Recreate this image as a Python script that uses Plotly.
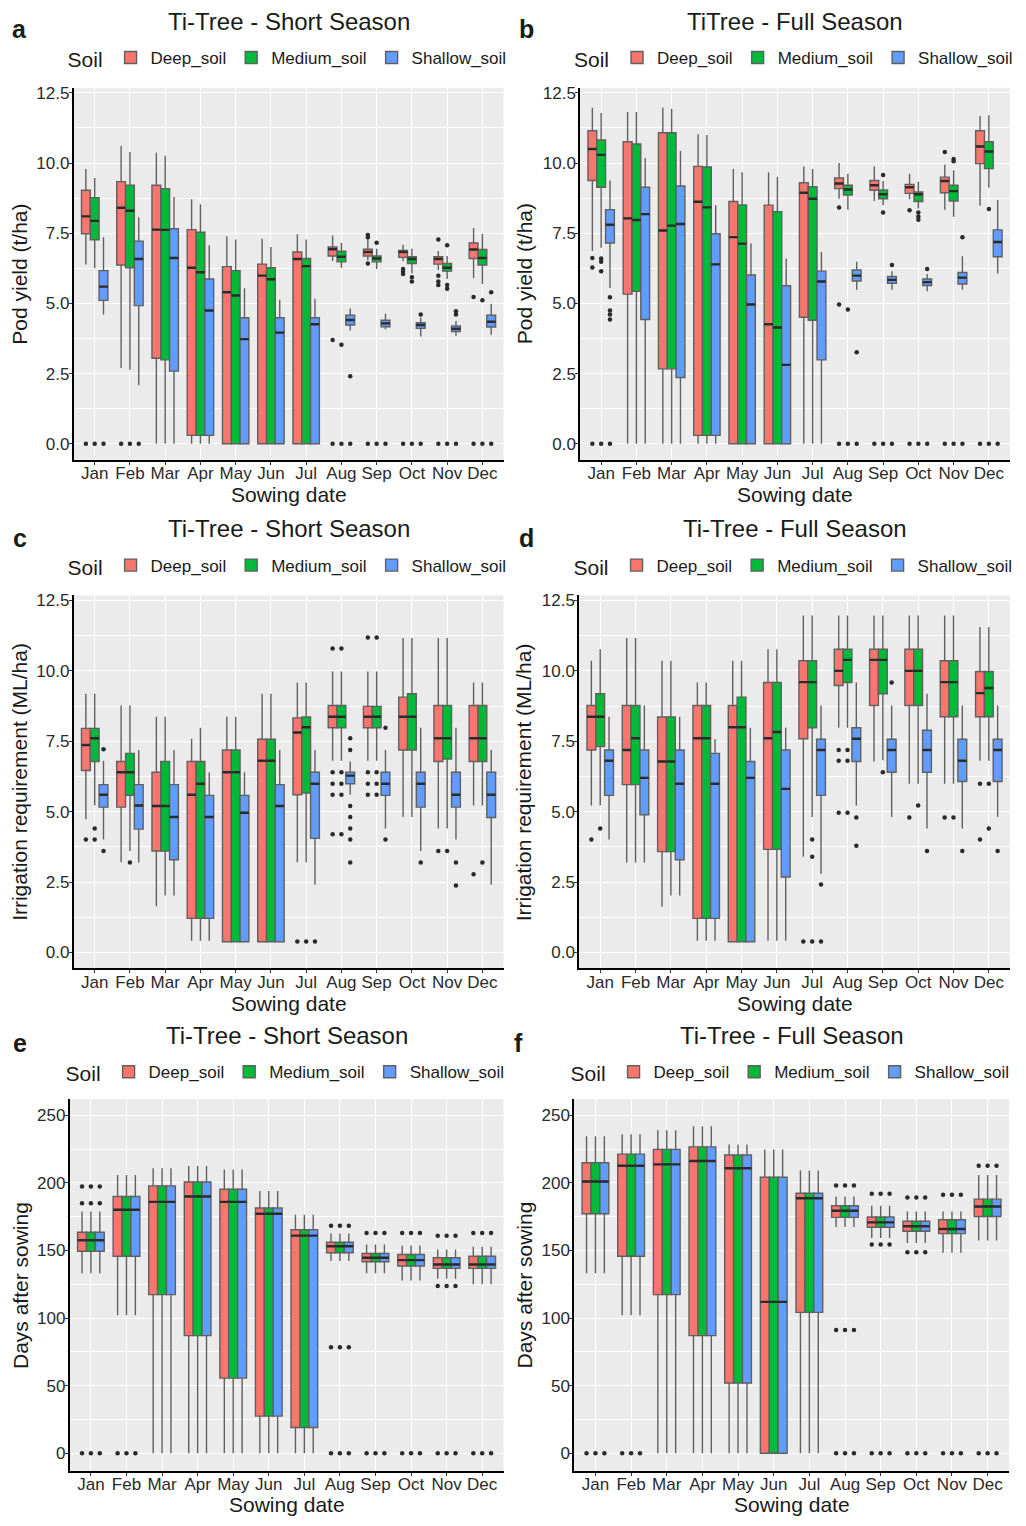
import plotly.graph_objects as go

MONTHS = ["Jan", "Feb", "Mar", "Apr", "May", "Jun", "Jul", "Aug", "Sep", "Oct", "Nov", "Dec"]
SOILS = ["Deep_soil", "Medium_soil", "Shallow_soil"]
SOIL_COLORS = ["#F8766D", "#00BA38", "#619CFF"]

# ---------------- Panel a: Pod yield, short season (rows: deep, medium, shallow)
A_LOW = [[6.39, 2.70, 0, 0, 0, 0, 0, 6.51, 6.54, 6.51, 6.19, 5.90],
         [6.25, 2.64, 0, 0, 0, 0, 0, 6.27, 6.23, 6.07, 5.87, 5.69],
         [4.61, 2.09, 0, 0, 0, 0, 0, 4.04, 4.08, 3.82, 3.85, 3.88]]
A_Q1 = [[7.48, 6.37, 3.05, 0.30, 0, 0, 0, 6.69, 6.69, 6.64, 6.40, 6.60],
        [7.27, 6.27, 2.99, 0.30, 0, 0, 0, 6.48, 6.48, 6.42, 6.15, 6.37],
        [5.11, 4.92, 2.59, 0.30, 0, 0, 0, 4.23, 4.17, 4.11, 4.00, 4.16]]
A_MED = [[8.10, 8.41, 7.63, 6.27, 5.40, 5.99, 6.58, 6.93, 6.83, 6.83, 6.58, 6.92],
         [7.94, 8.30, 7.62, 6.11, 5.28, 5.86, 6.33, 6.66, 6.60, 6.58, 6.27, 6.62],
         [5.60, 6.58, 6.62, 4.75, 3.73, 3.96, 4.26, 4.41, 4.29, 4.23, 4.10, 4.35]]
A_Q3 = [[9.03, 9.34, 9.21, 7.63, 6.31, 6.40, 6.83, 7.01, 6.93, 6.89, 6.66, 7.15],
        [8.77, 9.21, 9.09, 7.54, 6.17, 6.27, 6.60, 6.86, 6.69, 6.66, 6.42, 6.92],
        [6.17, 7.22, 7.66, 5.87, 4.49, 4.49, 4.49, 4.58, 4.40, 4.31, 4.20, 4.58]]
A_HIGH = [[9.79, 10.61, 10.37, 8.71, 7.39, 7.30, 7.46, 7.42, 7.30, 7.09, 6.87, 7.69],
          [9.47, 10.39, 10.26, 8.53, 7.28, 7.01, 7.28, 7.16, 6.95, 6.95, 6.69, 7.48],
          [7.36, 8.07, 8.79, 7.07, 5.54, 5.13, 5.17, 4.82, 4.63, 4.49, 4.37, 4.99]]
A_OUT = [[[0], [0], [], [], [], [], [], [3.70, 0], [7.44, 7.36, 6.42, 0], [6.23, 6.13, 6.05, 0], [7.28, 5.99, 5.78, 5.66, 0], [5.23, 0]],
         [[0], [0], [], [], [], [], [], [3.53, 0], [7.16, 0], [5.93, 5.78, 0], [7.07, 5.66, 5.52, 0], [5.11, 0]],
         [[0], [0], [], [], [], [], [], [2.41, 0], [0], [4.61, 0], [4.72, 4.61, 0], [5.40, 0]]]

# ---------------- Panel b: Pod yield, full season
B_LOW = [[6.87, 0, 0, 0, 0, 0, 0, 8.73, 8.65, 8.71, 8.34, 8.48],
         [6.98, 0, 0, 0, 0, 0, 0, 8.34, 8.50, 8.38, 8.09, 9.12],
         [5.55, 0, 0, 0, 0, 0, 0, 5.49, 5.49, 5.43, 5.49, 6.07]]
B_Q1 = [[9.38, 5.33, 2.67, 0.30, 0, 0, 4.51, 9.09, 9.03, 8.92, 8.94, 9.98],
        [9.14, 5.43, 2.67, 0.30, 0, 0, 4.40, 8.86, 8.73, 8.63, 8.65, 9.80],
        [7.15, 4.43, 2.36, 0.30, 0, 0, 2.99, 5.80, 5.72, 5.64, 5.69, 6.66]]
B_MED = [[10.50, 8.03, 7.60, 8.62, 7.36, 4.26, 8.94, 9.27, 9.21, 9.14, 9.36, 10.59],
         [10.29, 7.97, 7.77, 8.42, 7.13, 4.14, 8.73, 9.06, 8.89, 8.89, 9.00, 10.41],
         [7.80, 8.18, 7.83, 6.39, 4.96, 2.81, 5.78, 5.99, 5.84, 5.76, 5.92, 7.19]]
B_Q3 = [[11.15, 10.76, 11.08, 9.88, 8.63, 8.50, 9.30, 9.47, 9.38, 9.24, 9.50, 11.15],
        [10.82, 10.68, 11.08, 9.86, 8.51, 8.27, 9.16, 9.21, 9.04, 8.97, 9.21, 10.76],
        [8.34, 9.14, 9.18, 7.48, 6.01, 5.63, 6.15, 6.19, 5.96, 5.87, 6.10, 7.62]]
B_HIGH = [[11.97, 11.82, 11.97, 11.03, 9.79, 9.67, 9.88, 10.00, 9.88, 9.62, 9.94, 11.68],
          [11.78, 11.82, 11.93, 11.00, 9.67, 9.51, 9.79, 9.62, 9.36, 9.33, 9.74, 11.70],
          [9.38, 10.18, 10.43, 8.50, 7.13, 6.60, 6.83, 6.48, 6.15, 6.05, 6.68, 8.68]]
B_OUT = [[[6.62, 6.28, 0], [], [], [], [], [], [], [8.42, 4.96, 0], [0], [8.32, 0], [10.39, 0], [0]],
         [[6.60, 6.48, 6.15, 0], [], [], [], [], [], [], [4.78, 0], [9.57, 8.24, 0], [8.24, 8.10, 7.98, 0], [10.14, 10.06, 0], [8.36, 0]],
         [[5.22, 4.75, 4.61, 4.43, 0], [], [], [], [], [], [], [3.26, 0], [6.37, 0], [6.23, 0], [7.36, 0], [0]]]

# ---------------- Panel c: Irrigation requirement, short season
C_LOW = [[4.73, 3.20, 1.64, 0.41, 0.38, 0.38, 3.20, 6.81, 6.81, 4.81, 4.40, 5.22],
         [5.22, 3.60, 2.02, 0.41, 0.38, 0.38, 3.20, 6.81, 6.81, 4.81, 4.40, 5.22],
         [4.01, 3.19, 2.02, 0.41, 0.38, 0.38, 2.41, 5.60, 4.40, 3.60, 4.01, 2.41]]
C_Q1 = [[6.46, 5.16, 3.60, 1.21, 0.38, 0.38, 5.60, 7.98, 7.98, 7.19, 6.78, 6.78],
        [6.78, 5.58, 3.60, 1.21, 0.38, 0.38, 5.66, 7.98, 7.98, 7.19, 6.87, 6.78],
        [5.16, 4.38, 3.29, 1.21, 0.38, 0.38, 4.05, 5.99, 5.58, 5.16, 5.16, 4.79]]
C_MED = [[7.37, 6.40, 5.20, 5.60, 6.40, 6.81, 7.81, 8.37, 8.37, 8.37, 7.61, 7.61],
         [7.61, 6.40, 5.20, 5.99, 6.40, 6.81, 8.00, 8.37, 8.37, 8.37, 7.61, 7.61],
         [5.60, 5.22, 4.81, 4.81, 4.96, 5.20, 5.99, 6.28, 5.99, 5.99, 5.60, 5.60]]
C_Q3 = [[7.96, 6.78, 6.40, 6.78, 7.19, 7.57, 8.33, 8.77, 8.74, 9.07, 8.77, 8.77],
        [7.96, 7.07, 6.78, 6.78, 7.19, 7.57, 8.36, 8.77, 8.74, 9.19, 8.77, 8.77],
        [5.96, 5.96, 5.96, 5.58, 5.58, 5.96, 6.40, 6.40, 6.40, 6.40, 6.40, 6.40]]
C_HIGH = [[9.19, 8.77, 8.37, 7.59, 8.37, 9.19, 9.59, 9.98, 9.98, 11.17, 11.17, 9.59],
          [9.19, 8.77, 8.37, 7.98, 8.37, 9.19, 9.59, 9.98, 9.98, 11.17, 11.17, 9.59],
          [6.81, 7.19, 7.19, 6.40, 6.40, 7.19, 7.19, 6.78, 7.19, 7.98, 7.98, 7.19]]
C_OUT = [[[4.01], [], [], [], [], [], [0.39], [10.80, 6.40, 5.99, 5.60, 4.20], [11.19, 6.40, 5.99, 5.60], [], [3.60], [2.78]],
         [[4.40, 4.01], [3.19], [], [], [], [], [0.39], [10.80, 6.40, 5.99, 5.60, 4.20], [11.19, 6.40, 5.99, 5.60], [], [3.60], [3.19]],
         [[7.22, 3.60], [], [], [], [], [], [0.39], [7.61, 7.19, 5.20, 4.81, 4.40, 4.01, 3.19], [7.98, 4.01], [3.19], [3.19, 2.38], []]]

# ---------------- Panel d: Irrigation requirement, full season
D_LOW = [[5.22, 3.19, 1.62, 0.41, 0.38, 0.41, 3.40, 7.98, 6.78, 5.99, 5.99, 6.81],
         [5.22, 3.19, 2.02, 0.41, 0.38, 0.41, 4.81, 7.98, 6.83, 5.99, 5.99, 6.81],
         [4.01, 3.19, 2.02, 0.41, 0.38, 0.41, 2.79, 5.22, 4.81, 4.40, 4.40, 4.81]]
D_Q1 = [[7.19, 5.96, 3.58, 1.21, 0.38, 3.66, 7.59, 9.48, 8.77, 8.77, 8.37, 8.37],
        [7.31, 5.96, 3.58, 1.21, 0.38, 3.66, 7.98, 9.59, 9.19, 8.77, 8.37, 8.37],
        [5.58, 4.89, 3.29, 1.21, 0.38, 2.68, 5.58, 6.78, 6.40, 6.40, 6.07, 6.07]]
D_MED = [[8.37, 7.19, 6.78, 7.61, 8.00, 7.61, 9.60, 10.00, 10.39, 10.00, 9.60, 9.21],
         [8.37, 7.61, 6.78, 7.61, 8.00, 7.83, 9.60, 10.39, 10.39, 10.00, 9.60, 9.39],
         [6.81, 6.20, 5.99, 5.99, 6.20, 5.81, 7.19, 7.59, 7.19, 7.19, 6.81, 7.19]]
D_Q3 = [[8.77, 8.77, 8.36, 8.77, 8.77, 9.59, 10.36, 10.77, 10.77, 10.77, 10.36, 9.98],
        [9.19, 8.77, 8.36, 8.77, 9.07, 9.59, 10.36, 10.77, 10.77, 10.77, 10.36, 9.98],
        [7.19, 7.19, 7.19, 7.07, 6.78, 7.19, 7.57, 7.98, 7.57, 7.89, 7.57, 7.57]]
D_HIGH = [[10.36, 11.17, 10.36, 9.59, 10.36, 10.77, 11.97, 11.97, 11.97, 11.97, 11.97, 11.56],
          [10.77, 11.17, 10.36, 9.59, 10.36, 10.77, 11.97, 11.97, 11.97, 11.97, 11.97, 11.56],
          [8.37, 8.77, 8.37, 7.57, 7.98, 7.98, 8.77, 9.59, 8.77, 9.19, 8.77, 8.77]]
D_OUT = [[[4.01], [], [], [], [], [], [0.39], [7.19, 6.81, 4.96], [], [4.79], [4.79], [5.99, 4.01]],
         [[4.40], [], [], [], [], [], [4.01, 3.40, 0.39], [7.19, 6.81, 4.96], [6.40], [5.22], [4.79], [5.99, 4.40]],
         [[], [], [], [], [], [], [2.41, 0.39], [4.79, 3.79], [9.59], [3.60], [3.60], [3.60]]]

# ---------------- Panel e: Days after sowing, short season (identical for all soils)
E_LOW = [133.1, 102.2, 0, 0, 0, 0, 0, 142.2, 133.1, 127.9, 129.2, 125.0]
E_Q1 = [149.5, 145.8, 117.4, 87.0, 55.6, 27.5, 19.1, 148.3, 141.7, 138.5, 136.8, 136.8]
E_MED = [157.6, 180.1, 186.0, 190.0, 186.0, 177.2, 161.0, 153.2, 144.6, 142.9, 139.7, 139.7]
E_Q3 = [163.5, 190.0, 197.8, 200.7, 195.3, 181.4, 165.4, 156.1, 147.8, 147.1, 144.6, 145.8]
E_HIGH = [178.9, 205.9, 210.8, 212.5, 210.0, 194.1, 176.5, 162.5, 154.4, 153.7, 150.7, 152.7]
E_OUT = [[197.3, 185.0, 0], [0], [], [], [], [], [], [168.4, 78.4, 0], [163.0, 0], [163.0, 0], [161.0, 123.8, 0], [163.0, 0]]

# ---------------- Panel f: Days after sowing, full season (identical for all soils)
F_LOW = [133.1, 102.2, 0, 0, 0, 0, 0, 167.4, 159.3, 155.6, 148.3, 157.4]
F_Q1 = [177.2, 145.8, 117.4, 87.0, 52.0, 0, 104.2, 174.5, 167.2, 164.2, 162.5, 175.2]
F_MED = [201.0, 212.7, 213.7, 216.2, 210.8, 112.0, 188.7, 179.4, 170.8, 167.9, 165.9, 182.6]
F_Q3 = [214.9, 221.3, 224.8, 226.7, 220.6, 204.2, 192.4, 183.1, 174.8, 171.6, 172.8, 188.0]
F_HIGH = [234.6, 236.0, 239.0, 241.9, 228.4, 224.8, 209.1, 190.0, 183.1, 178.9, 178.9, 205.9]
F_OUT = [[0], [0], [], [], [], [], [], [198.0, 91.2, 0], [191.9, 154.4, 0], [189.2, 148.8, 0], [191.2, 0], [212.7, 0]]

PANEL_LETTERS = ["a", "b", "c", "d", "e", "f"]
PANEL_TITLES = ["Ti-Tree - Short Season", "TiTree - Full Season",
                "Ti-Tree - Short Season", "Ti-Tree - Full Season",
                "Ti-Tree - Short Season", "Ti-Tree - Full Season"]
Y_TITLES = ["Pod yield (t/ha)", "Pod yield (t/ha)",
            "Irrigation requirement (ML/ha)", "Irrigation requirement (ML/ha)",
            "Days after sowing", "Days after sowing"]
X_TITLE = "Sowing date"
Y_TICKS_YIELD = [0.0, 2.5, 5.0, 7.5, 10.0, 12.5]
Y_TICKS_DAYS = [0, 50, 100, 150, 200, 250]

panel_data = [
    (A_LOW, A_Q1, A_MED, A_Q3, A_HIGH, A_OUT),
    (B_LOW, B_Q1, B_MED, B_Q3, B_HIGH, B_OUT),
    (C_LOW, C_Q1, C_MED, C_Q3, C_HIGH, C_OUT),
    (D_LOW, D_Q1, D_MED, D_Q3, D_HIGH, D_OUT),
    ([E_LOW] * 3, [E_Q1] * 3, [E_MED] * 3, [E_Q3] * 3, [E_HIGH] * 3, [E_OUT] * 3),
    ([F_LOW] * 3, [F_Q1] * 3, [F_MED] * 3, [F_Q3] * 3, [F_HIGH] * 3, [F_OUT] * 3),
]

# ---------------- layout geometry (figure pixels; page = figure + 8)
W, H = 1010, 1510
FONT = "Liberation Sans, Arial, sans-serif"
# plot area (left, right, top, bottom)
GEOM = [
    (66, 499, 76, 449), (576, 1009, 76, 449),
    (66, 499, 585, 959), (575, 1009, 585, 959),
    (62, 499, 1090, 1463), (570, 1008, 1090, 1463),
]
Y_RANGES = [[-0.57, 12.68]] * 4 + [[-13.2, 262]] * 2
TITLE_Y = [10, 10, 518, 518, 1026, 1026]
LEGEND_Y = [47, 47, 556, 556, 1064, 1064]
LETTER_POS = [(12, 17), (522, 17), (12, 527), (522, 527), (12, 1034), (514, 1034)]
YTITLE_X = [12, 520, 12, 520, 12, 520]
XTITLE_GAP = [35, 35, 35, 35, 33, 33]


def fx(v):
    return v / W


def fy(v):
    return 1 - v / H


OFFSETS = [-0.25, 0.0, 0.25]
BOX_W = 0.25

fig = go.Figure()
annotations = []
layout = dict(
    width=W, height=H, margin=dict(l=0, r=0, t=0, b=0),
    paper_bgcolor="white", plot_bgcolor="#EBEBEB",
    font=dict(family=FONT, color="#1a1a1a"),
    boxmode="overlay", hovermode=False,
)

for p in range(6):
    low, q1, med, q3, high, out = panel_data[p]
    sfx = "" if p == 0 else str(p + 1)
    xa, ya = "x" + sfx, "y" + sfx
    leg = "legend" + sfx
    left, right, top, bottom = GEOM[p]

    for s in range(3):
        xs = [m + 1 + OFFSETS[s] for m in range(12)]
        fig.add_trace(go.Box(
            x=xs, q1=q1[s], median=med[s], q3=q3[s],
            lowerfence=low[s], upperfence=high[s],
            width=BOX_W, fillcolor=SOIL_COLORS[s],
            line=dict(color="#606060", width=1.4), whiskerwidth=0,
            boxpoints=False, name=SOILS[s], legend=leg,
            xaxis=xa, yaxis=ya, showlegend=True,
        ))
    # emphasised median bars (ggplot draws medians thicker)
    for s in range(3):
        xs = [m + 1 + OFFSETS[s] for m in range(12)]
        fig.add_trace(go.Box(
            x=xs, q1=med[s], median=med[s], q3=med[s],
            lowerfence=med[s], upperfence=med[s],
            width=BOX_W, fillcolor="rgba(0,0,0,0)",
            line=dict(color="#2b2b2b", width=2.4), whiskerwidth=0,
            boxpoints=False, showlegend=False, xaxis=xa, yaxis=ya,
        ))
    for s in range(3):
        ox, oy = [], []
        for m in range(12):
            for v in out[s][m]:
                ox.append(m + 1 + OFFSETS[s])
                oy.append(v)
        fig.add_trace(go.Scatter(
            x=ox, y=oy, mode="markers",
            marker=dict(color="#2a2a2a", size=4.5),
            showlegend=False, xaxis=xa, yaxis=ya,
        ))

    is_days = p >= 4
    layout["xaxis" + sfx] = dict(
        domain=[fx(left), fx(right)], anchor=ya, range=[0.4, 12.6],
        tickvals=list(range(1, 13)), ticktext=MONTHS,
        showgrid=True, gridcolor="white", gridwidth=1.2, zeroline=False,
        showline=True, linecolor="black", linewidth=1.5,
        ticks="outside", ticklen=3, tickcolor="#333333",
        ticklabelstandoff=-6,
        tickfont=dict(size=17, color="#2a2a2a"),
    )
    layout["yaxis" + sfx] = dict(
        domain=[fy(bottom), fy(top)], anchor=xa, range=Y_RANGES[p],
        tickvals=Y_TICKS_DAYS if is_days else Y_TICKS_YIELD,
        tickformat="d" if is_days else ".1f",
        showgrid=True, gridcolor="white", gridwidth=1.2, zeroline=False,
        showline=True, linecolor="black", linewidth=1.5,
        ticks="outside", ticklen=3, tickcolor="#333333",
        ticklabelstandoff=-4,
        tickfont=dict(size=17, color="#2a2a2a"),
        minor=dict(dtick=25 if is_days else 1.25, tick0=0, showgrid=True,
                   gridcolor="white", gridwidth=0.6, ticks=""),
    )
    cx = (left + right) / 2
    cy = (top + bottom) / 2
    layout[leg] = dict(
        orientation="h", x=fx(cx), xanchor="center", y=fy(LEGEND_Y[p]), yanchor="middle",
        title=dict(text="Soil", side="left", font=dict(size=21)),
        font=dict(size=17), bgcolor="rgba(0,0,0,0)", itemwidth=30,
    )
    annotations.append(dict(text=PANEL_TITLES[p], x=fx(cx), y=fy(TITLE_Y[p]), xref="paper", yref="paper",
                            xanchor="center", yanchor="middle", showarrow=False, font=dict(size=24)))
    lx, ly = LETTER_POS[p]
    annotations.append(dict(text="<b>" + PANEL_LETTERS[p] + "</b>", x=fx(lx), y=fy(ly),
                            xref="paper", yref="paper", xanchor="center", yanchor="middle",
                            showarrow=False, font=dict(size=25)))
    annotations.append(dict(text=X_TITLE, x=fx(cx), y=fy(bottom + XTITLE_GAP[p]), xref="paper", yref="paper",
                            xanchor="center", yanchor="middle", showarrow=False, font=dict(size=21)))
    annotations.append(dict(text=Y_TITLES[p], x=fx(YTITLE_X[p]), y=fy(cy), xref="paper", yref="paper",
                            xanchor="center", yanchor="middle", textangle=-90, showarrow=False,
                            font=dict(size=21)))

layout["annotations"] = annotations
fig.update_layout(**layout)
fig.write_html("out.html")
